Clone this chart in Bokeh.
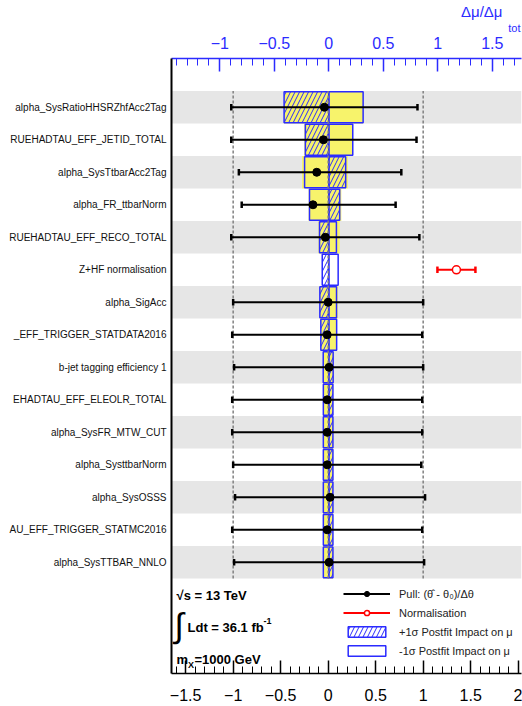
import numpy as np
from bokeh.plotting import figure
from bokeh.models import (Range1d, LinearAxis, FixedTicker, ColumnDataSource,
                          Label, Legend, LegendItem, Title)
from bokeh.embed import file_html
from bokeh.resources import INLINE

# ---------------- data ----------------
names = [
    "alpha_SysRatioHHSRZhfAcc2Tag",
    "RUEHADTAU_EFF_JETID_TOTAL",
    "alpha_SysTtbarAcc2Tag",
    "alpha_FR_ttbarNorm",
    "RUEHADTAU_EFF_RECO_TOTAL",
    "Z+HF normalisation",
    "alpha_SigAcc",
    "_EFF_TRIGGER_STATDATA2016",
    "b-jet tagging efficiency 1",
    "EHADTAU_EFF_ELEOLR_TOTAL",
    "alpha_SysFR_MTW_CUT",
    "alpha_SysttbarNorm",
    "alpha_SysOSSS",
    "AU_EFF_TRIGGER_STATMC2016",
    "alpha_SysTTBAR_NNLO",
]
nan = float("nan")
pull = [-0.04, -0.05, -0.12, -0.16, -0.03, nan, 0.00, -0.01, 0.01, -0.01, -0.01, -0.01, 0.02, -0.01, 0.01]
pull_err_lo = [0.98, 0.97, 0.82, 0.75, 0.99, nan, 1.00, 1.00, 1.00, 1.00, 1.00, 0.99, 1.00, 1.00, 1.00]
pull_err_hi = [0.98, 0.98, 0.89, 0.87, 0.99, nan, 1.00, 1.00, 0.99, 1.00, 1.00, 0.99, 1.00, 1.00, 1.00]

norm_name = ["Z+HF normalisation"]
norm_val = [1.35]
norm_err = [0.20]

# +1 sigma postfit impact (hatched), -1 sigma postfit impact (open)
post_up = [-0.41, -0.215, 0.155, 0.10, -0.085, -0.06, -0.082, -0.073, 0.040, 0.038, 0.038, 0.038, 0.038, 0.038, 0.038]
post_dn = [0.315, 0.22, -0.222, -0.177, 0.07, 0.086, 0.071, 0.072, -0.051, -0.050, -0.050, -0.050, -0.050, -0.050, -0.050]
# prefit impact (yellow)
pre_up = [-0.41, -0.225, 0.175, 0.115, -0.095, 0.0, -0.083, -0.075, 0.043, 0.040, 0.040, 0.040, 0.040, 0.040, 0.040]
pre_dn = [0.315, 0.22, -0.245, -0.185, 0.10, 0.0, 0.083, 0.074, -0.053, -0.052, -0.052, -0.052, -0.052, -0.052, -0.052]

bottom_ticks = [-1.5, -1.0, -0.5, 0.0, 0.5, 1.0, 1.5, 2.0]
bottom_tick_labels = ["\u22121.5", "\u22121", "\u22120.5", "0", "0.5", "1", "1.5", "2"]
top_ticks = [-1.0, -0.5, 0.0, 0.5, 1.0, 1.5]
top_tick_labels = ["\u22121", "\u22120.5", "0", "0.5", "1", "1.5"]

# ---------------- layout ----------------
W, H = 522, 706
BL, BR, BT, BB = 171, 1, 58, 33
X0, X1 = -1.649, 2.035
T0, T1 = -1.443, 1.768
Y0, Y1 = -2.92, 16.0
FONT = "Liberation Sans"
BLUE = "#2b2bff"
YELLOW = "#f7f36b"
GRAY = "#e6e6e6"

FW = W - BL - BR
FH = H - BT - BB


def xd(px):
    return X0 + (px - BL) / FW * (X1 - X0)


def yd(py):
    return Y1 - (py - BT) / FH * (Y1 - Y0)


n = len(names)
yc = [n - i - 0.5 for i in range(n)]

p = figure(width=W, height=H, output_backend="svg", toolbar_location=None,
           x_range=Range1d(X0, X1), y_range=Range1d(Y0, Y1),
           min_border_left=BL, min_border_right=BR, min_border_top=BT,
           min_border_bottom=BB, title_location=None)
p.extra_x_ranges = {"impact": Range1d(T0, T1)}
p.grid.visible = False
p.outline_line_color = None
p.background_fill_color = "white"
p.border_fill_color = "white"

# bands
band_y = [yc[i] for i in range(0, n, 2)]
p.hbar(y=band_y, left=X0, right=X1, height=1.0, fill_color=GRAY, line_color=None)

# prefit (yellow)
p.hbar(y=yc, left=0, right=pre_up, height=1.0, x_range_name="impact",
       fill_color=YELLOW, line_color=None)
p.hbar(y=yc, left=0, right=pre_dn, height=1.0, x_range_name="impact",
       fill_color=YELLOW, line_color=None)

# postfit +1 sigma (hatched)
r_up = p.hbar(y=yc, left=0, right=post_up, height=0.95, x_range_name="impact",
              fill_alpha=0, hatch_pattern="/", hatch_color=BLUE, hatch_scale=9,
              hatch_weight=1, line_color=BLUE, line_width=1.5)
# postfit -1 sigma (open)
r_dn = p.hbar(y=yc, left=0, right=post_dn, height=0.95, x_range_name="impact",
              fill_alpha=0, line_color=BLUE, line_width=1.5)

# dashed reference lines
p.segment(x0=[-1, 0, 1], y0=0, x1=[-1, 0, 1], y1=n, line_color="#808080",
          line_width=1.5, line_dash="3 2")

# pulls
ok = [i for i in range(n) if not np.isnan(pull[i])]
src = ColumnDataSource(dict(
    y=[yc[i] for i in ok],
    x=[pull[i] for i in ok],
    lo=[pull[i] - pull_err_lo[i] for i in ok],
    hi=[pull[i] + pull_err_hi[i] for i in ok],
    ylo=[yc[i] - 0.1 for i in ok],
    yhi=[yc[i] + 0.1 for i in ok],
))
r_pl = p.segment(x0="lo", x1="hi", y0="y", y1="y", source=src, line_color="black", line_width=2)
p.segment(x0="lo", x1="lo", y0="ylo", y1="yhi", source=src, line_color="black", line_width=2.5)
p.segment(x0="hi", x1="hi", y0="ylo", y1="yhi", source=src, line_color="black", line_width=2.5)
r_pd = p.scatter(x="x", y="y", source=src, size=8, color="black")

# normalisation
ny = [yc[names.index(nm)] for nm in norm_name]
nsrc = ColumnDataSource(dict(
    y=ny, x=norm_val,
    lo=[v - e for v, e in zip(norm_val, norm_err)],
    hi=[v + e for v, e in zip(norm_val, norm_err)],
    ylo=[y - 0.1 for y in ny], yhi=[y + 0.1 for y in ny],
))
r_nl = p.segment(x0="lo", x1="hi", y0="y", y1="y", source=nsrc, line_color="red", line_width=2)
p.segment(x0="lo", x1="lo", y0="ylo", y1="yhi", source=nsrc, line_color="red", line_width=2.5)
p.segment(x0="hi", x1="hi", y0="ylo", y1="yhi", source=nsrc, line_color="red", line_width=2.5)
r_nd = p.scatter(x="x", y="y", source=nsrc, size=8, fill_color="white",
                 line_color="red", line_width=1.5)

# axes
bx = p.xaxis[0]
bx.ticker = FixedTicker(ticks=bottom_ticks, minor_ticks=list(np.round(np.arange(-1.6, 2.01, 0.1), 2)))
bx.major_label_overrides = {t: l for t, l in zip(bottom_ticks, bottom_tick_labels)}
bx.major_tick_in = 13
bx.major_tick_out = 0
bx.minor_tick_in = 7
bx.minor_tick_out = 0
bx.axis_line_width = 1.5
bx.major_tick_line_width = 1.5
bx.minor_tick_line_width = 1
bx.major_label_text_font = FONT
bx.major_label_text_font_size = "16px"
bx.major_label_standoff = 15
bx.major_label_text_color = "black"

ya = p.yaxis[0]
ya.ticker = FixedTicker(ticks=yc)
ya.major_label_overrides = {y: t for y, t in zip(yc, names)}
ya.axis_line_width = 2
ya.axis_line_color = "black"
ya.major_tick_line_color = None
ya.minor_tick_line_color = None
ya.major_tick_in = 0
ya.major_tick_out = 0
ya.major_label_standoff = 5
ya.major_label_text_font = FONT
ya.major_label_text_font_size = "10px"
ya.major_label_text_color = "#111111"

tx = LinearAxis(x_range_name="impact",
                ticker=FixedTicker(ticks=top_ticks,
                                   minor_ticks=list(np.round(np.arange(-1.4, 1.71, 0.1), 2))))
tx.major_label_overrides = {t: l for t, l in zip(top_ticks, top_tick_labels)}
tx.major_tick_in = 13
tx.major_tick_out = 0
tx.minor_tick_in = 7
tx.minor_tick_out = 0
tx.axis_line_color = BLUE
tx.axis_line_width = 1.5
tx.major_tick_line_color = BLUE
tx.major_tick_line_width = 1.5
tx.minor_tick_line_color = BLUE
tx.major_label_text_color = BLUE
tx.major_label_text_font = FONT
tx.major_label_text_font_size = "16px"
tx.major_label_standoff = 10
p.add_layout(tx, "above")

# axis title: main part and subscript
t_tot = Title(text="tot", align="right", text_font=FONT, text_font_size="11px",
              text_font_style="normal", text_color=BLUE, standoff=0, offset=1)
t_main = Title(text="\u0394\u03bc/\u0394\u03bc", align="right", text_font=FONT,
               text_font_size="15px", text_font_style="normal", text_color=BLUE,
               standoff=0, offset=19)
p.add_layout(t_tot, "above")
p.add_layout(t_main, "above")

# info texts
def lab(px, py, t, size="13px", bold=True, align="left"):
    p.add_layout(Label(x=xd(px), y=yd(py), text=t, text_align=align, text_baseline="middle",
                       text_font=FONT, text_font_size=size,
                       text_font_style="bold" if bold else "normal", text_color="black"))

lab(176, 595, "\u221as = 13 TeV")
lab(174, 624, "\u222b", size="34px", bold=False)
lab(187, 627, "Ldt = 36.1 fb")
lab(263, 620, "-1", size="9px")
lab(176, 659, "m")
lab(187.5, 664, "X", size="9px")
lab(194, 659, "=1000 GeV")

# legend
legend = Legend(items=[
    LegendItem(label="Pull: (\u03b8\u0302 - \u03b8\u2080)/\u0394\u03b8", renderers=[r_pl, r_pd]),
    LegendItem(label="Normalisation", renderers=[r_nl, r_nd]),
    LegendItem(label="+1\u03c3 Postfit Impact on \u03bc", renderers=[r_up]),
    LegendItem(label="-1\u03c3 Postfit Impact on \u03bc", renderers=[r_dn]),
], location=(172, 16), orientation="vertical")
legend.background_fill_alpha = 0
legend.border_line_color = None
legend.padding = 0
legend.margin = 0
legend.spacing = 6
legend.glyph_width = 47
legend.glyph_height = 13
legend.label_height = 13
legend.label_standoff = 9
legend.label_text_font = FONT
legend.label_text_font_size = "11px"
legend.label_text_color = "#222222"
p.add_layout(legend, "center")

open("out.html", "w").write(file_html(p, INLINE))
